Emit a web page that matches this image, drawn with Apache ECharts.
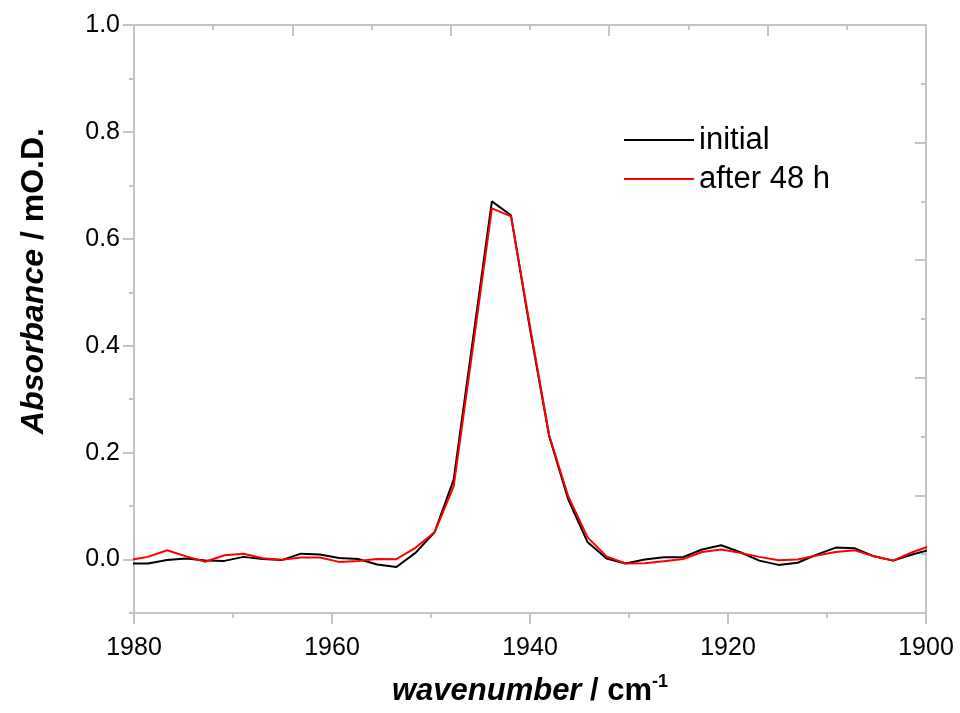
<!DOCTYPE html>
<html>
<head>
<meta charset="utf-8">
<script src="https://cdn.jsdelivr.net/npm/echarts@6/dist/echarts.min.js"></script>
<style>
  html, body { margin: 0; padding: 0; background: #fff; }
  #chart { width: 960px; height: 713px; }
</style>
</head>
<body>
<div id="chart"></div>
<script>
  // wavenumbers (cm-1)
  var wavenumbers = [1980.52, 1978.59, 1976.66, 1974.73, 1972.80, 1970.87, 1968.94, 1967.01, 1965.08, 1963.15,
    1961.22, 1959.29, 1957.36, 1955.43, 1953.50, 1951.57, 1949.64, 1947.71, 1945.78, 1943.85,
    1941.92, 1939.99, 1938.06, 1936.13, 1934.20, 1932.27, 1930.34, 1928.41, 1926.48, 1924.55,
    1922.62, 1920.69, 1918.76, 1916.83, 1914.90, 1912.97, 1911.04, 1909.11, 1907.18, 1905.25,
    1903.32, 1901.39, 1899.46];

  var initial = [-0.0075, -0.0075, -0.001, 0.002, -0.002, -0.0025, 0.005, 0.001, -0.001, 0.011,
    0.0093, 0.003, 0.001, -0.0093, -0.014, 0.0125, 0.051, 0.1495, 0.41, 0.67,
    0.644, 0.43, 0.2305, 0.112, 0.033, 0.002, -0.0075, 0.0, 0.0044, 0.0044,
    0.0187, 0.0268, 0.0137, -0.002, -0.01, -0.006, 0.0093, 0.0224, 0.021, 0.006,
    -0.002, 0.0093, 0.019];

  var after48h = [-0.001, 0.005, 0.0175, 0.006, -0.004, 0.008, 0.011, 0.0025, -0.0006, 0.0037,
    0.0037, -0.0044, -0.0025, 0.001, 0.0006, 0.022, 0.051, 0.137, 0.395, 0.657,
    0.642, 0.435, 0.232, 0.118, 0.042, 0.006, -0.0075, -0.007, -0.003, 0.001,
    0.014, 0.0187, 0.0125, 0.005, -0.0012, 0.0, 0.0075, 0.0143, 0.0175, 0.006,
    -0.002, 0.0137, 0.026];

  var yLabels = [0, 0.2, 0.4, 0.6, 0.8, 1.0];
  var yMinor = [-0.1, 0.1, 0.3, 0.5, 0.7, 0.9];

  function pairs(ys) {
    var arr = [];
    for (var i = 0; i < wavenumbers.length; i++) {
      arr.push([wavenumbers[i], ys[i]]);
    }
    return arr;
  }

  var axisGray = '#c4c4c4';
  var font = '"Liberation Sans", Arial, sans-serif';

  var option = {
    animation: false,
    textStyle: { fontFamily: font },
    grid: { left: 134, right: 34, top: 25, bottom: 100 },
    legend: {
      orient: 'vertical',
      left: 619,
      top: 117,
      itemWidth: 70,
      itemHeight: 2,
      itemGap: 3,
      icon: 'rect',
      textStyle: { fontSize: 31, color: '#000', lineHeight: 36, fontFamily: font },
      data: ['initial', 'after 48 h']
    },
    xAxis: [
      {
        type: 'value',
        inverse: true,
        min: 1900,
        max: 1980,
        interval: 20,
        position: 'bottom',
        name: '{i|wavenumber}{b| / cm}{s|-1}',
        nameLocation: 'middle',
        nameGap: 60,
        nameTextStyle: {
          rich: {
            i: { fontSize: 31, fontWeight: 'bold', fontStyle: 'italic', color: '#000', fontFamily: font, lineHeight: 36 },
            b: { fontSize: 31, fontWeight: 'bold', color: '#000', fontFamily: font, lineHeight: 36 },
            s: { fontSize: 18, fontWeight: 'bold', color: '#000', fontFamily: font, verticalAlign: 'top', lineHeight: 16 }
          }
        },
        axisLine: { onZero: false, lineStyle: { color: axisGray, width: 2 } },
        axisTick: { length: 11, lineStyle: { color: axisGray, width: 2 } },
        minorTick: { show: true, splitNumber: 2, length: 5, lineStyle: { color: axisGray, width: 2 } },
        axisLabel: {
          fontSize: 25,
          color: '#000',
          margin: 23,
          formatter: function (v) { return String(v); }
        },
        splitLine: { show: false }
      },
      {
        // top frame edge
        type: 'value',
        position: 'top',
        min: 0,
        max: 5,
        interval: 1,
        axisLine: { onZero: false, lineStyle: { color: axisGray, width: 2 } },
        axisTick: { inside: true, length: 11, lineStyle: { color: axisGray, width: 2 } },
        minorTick: { show: true, splitNumber: 2, length: 5, lineStyle: { color: axisGray, width: 2 } },
        axisLabel: { show: false },
        splitLine: { show: false }
      }
    ],
    yAxis: [
      {
        type: 'value',
        position: 'left',
        min: -0.1,
        max: 1.0,
        name: '{i|Absorbance}{b| / mO.D.}',
        nameLocation: 'middle',
        nameGap: 84,
        nameTextStyle: {
          padding: [0, 0, 0, 76],
          rich: {
            i: { fontSize: 32, fontWeight: 'bold', fontStyle: 'italic', color: '#000', fontFamily: font },
            b: { fontSize: 32, fontWeight: 'bold', color: '#000', fontFamily: font }
          }
        },
        axisLine: { onZero: false, lineStyle: { color: axisGray, width: 2 } },
        axisTick: { customValues: yLabels, length: 11, lineStyle: { color: axisGray, width: 2 } },
        axisLabel: {
          customValues: yLabels,
          fontSize: 25,
          color: '#000',
          margin: 14,
          formatter: function (v) { return v.toFixed(1); }
        },
        splitLine: { show: false }
      },
      {
        // right frame edge
        type: 'value',
        position: 'right',
        min: 0,
        max: 5,
        interval: 1,
        axisLine: { onZero: false, lineStyle: { color: axisGray, width: 2 } },
        axisTick: { inside: true, length: 11, lineStyle: { color: axisGray, width: 2 } },
        minorTick: { show: true, splitNumber: 2, length: 5, lineStyle: { color: axisGray, width: 2 } },
        axisLabel: { show: false },
        splitLine: { show: false }
      },
      {
        // minor ticks on the left axis
        type: 'value',
        position: 'left',
        min: -0.1,
        max: 1.0,
        axisLine: { show: false },
        axisTick: { customValues: yMinor, length: 5, lineStyle: { color: axisGray, width: 2 } },
        axisLabel: { show: false },
        splitLine: { show: false }
      }
    ],
    series: [
      {
        name: 'initial',
        type: 'line',
        data: pairs(initial),
        showSymbol: false,
        color: '#000000',
        lineStyle: { color: '#000000', width: 2 },
        clip: true
      },
      {
        name: 'after 48 h',
        type: 'line',
        data: pairs(after48h),
        showSymbol: false,
        color: '#ff0000',
        lineStyle: { color: '#ff0000', width: 2 },
        clip: true
      }
    ]
  };

  var myChart = echarts.init(document.getElementById('chart'));
  myChart.setOption(option);
</script>
</body>
</html>
